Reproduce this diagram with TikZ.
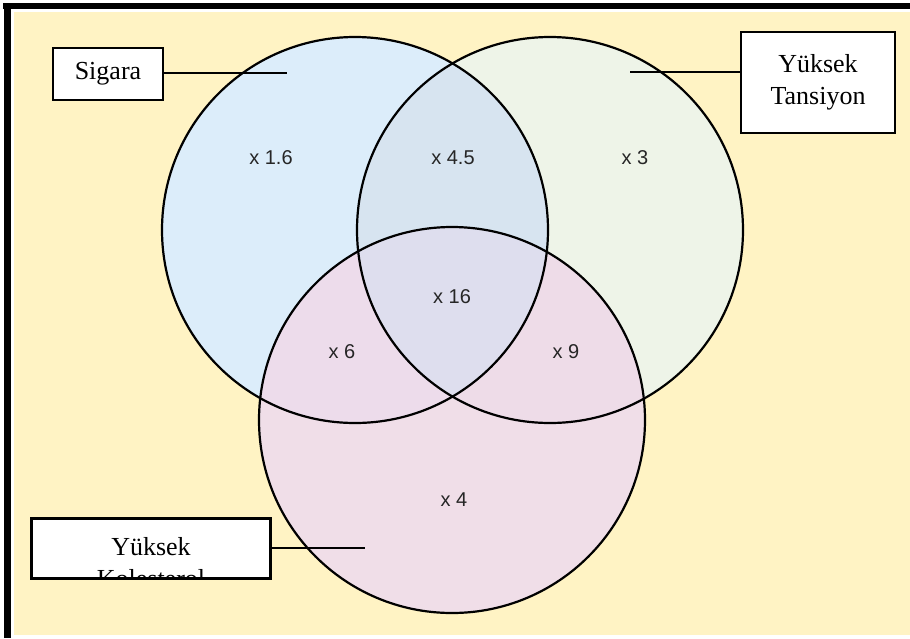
\documentclass[tikz,border=0pt]{standalone}
\usepackage{fontspec}
\setmainfont{Liberation Serif}
\newfontfamily\labfont{Liberation Sans}
\definecolor{bgy}{HTML}{FFF3C4}
\definecolor{cA}{HTML}{DCEDFA}
\definecolor{cB}{HTML}{EEF4E8}
\definecolor{cC}{HTML}{F0DEE8}
\definecolor{cAB}{HTML}{D7E4F0}
\definecolor{cAC}{HTML}{EDDCEB}
\definecolor{cBC}{HTML}{EEDCE8}
\definecolor{cABC}{HTML}{DEDEEE}
\definecolor{labc}{HTML}{262626}
\begin{document}
\begin{tikzpicture}[x=1pt,y=-1pt,
  boxnode/.style={draw=black,line width=2pt,fill=white,inner sep=0pt,
    font=\fontsize{26}{32}\selectfont,align=center},
  region/.style={font=\labfont\fontsize{20}{22}\selectfont,text=labc,inner sep=0pt},
  ring/.style={draw=black,line width=2.2pt},
  leader/.style={draw=black,line width=1.5pt}]
\useasboundingbox (0,0) rectangle (910,638);
\fill[white] (0,0) rectangle (910,638);
\fill[bgy] (14,12) rectangle (910,635);
\fill[black] (3,3) rectangle (910,9);
\fill[black] (4,3) rectangle (11,638);
% circle centres
\coordinate (A) at (355,230);
\coordinate (B) at (550,230);
\coordinate (C) at (452,420);
\def\R{193}
\fill[cA] (A) circle (\R);
\fill[cB] (B) circle (\R);
\fill[cC] (C) circle (\R);
\begin{scope}\clip (A) circle (\R); \fill[cAB] (B) circle (\R);\end{scope}
\begin{scope}\clip (A) circle (\R); \fill[cAC] (C) circle (\R);\end{scope}
\begin{scope}\clip (B) circle (\R); \fill[cBC] (C) circle (\R);\end{scope}
\begin{scope}\clip (A) circle (\R); \clip (B) circle (\R); \fill[cABC] (C) circle (\R);\end{scope}
\draw[ring] (A) circle (\R);
\draw[ring] (B) circle (\R);
\draw[ring] (C) circle (\R);
% region labels
\node[region] (r1) at (271,158) {x 1.6};
\node[region] (r2) at (453,158) {x 4.5};
\node[region] (r3) at (635,158) {x 3};
\node[region] (r4) at (452,297) {x 16};
\node[region] (r5) at (342,352) {x 6};
\node[region] (r6) at (566,352) {x 9};
\node[region] (r7) at (454,500) {x 4};
% label boxes
\node[boxnode,minimum width=110,minimum height=52] (sig) at (108,74) {Sigara};
\node[boxnode,minimum width=154,minimum height=101] (tan) at (818,82.5) {Yüksek\\Tansiyon};
\node[boxnode,minimum width=238,minimum height=59] (kol) at (151,548.5) {};
\begin{scope}
\clip (kol.south west) rectangle (kol.north east);
\node[font=\fontsize{26}{32}\selectfont,anchor=base,inner sep=0pt] (k1) at (151,555) {Yüksek};
\node[font=\fontsize{26}{32}\selectfont,anchor=base,inner sep=0pt] (k2) at (151,587) {Kolesterol};
\end{scope}
\draw[line width=2pt] (kol.south west) rectangle (kol.north east);
% leaders
\coordinate (sigEnd) at (287,73);
\coordinate (tanEnd) at (630,72);
\coordinate (kolEnd) at (365,548);
\draw[leader] (sig.east |- sigEnd) -- (sigEnd);
\draw[leader] (tanEnd) -- (tanEnd -| tan.west);
\draw[leader] (kol.east |- kolEnd) -- (kolEnd);
\end{tikzpicture}
\end{document}
